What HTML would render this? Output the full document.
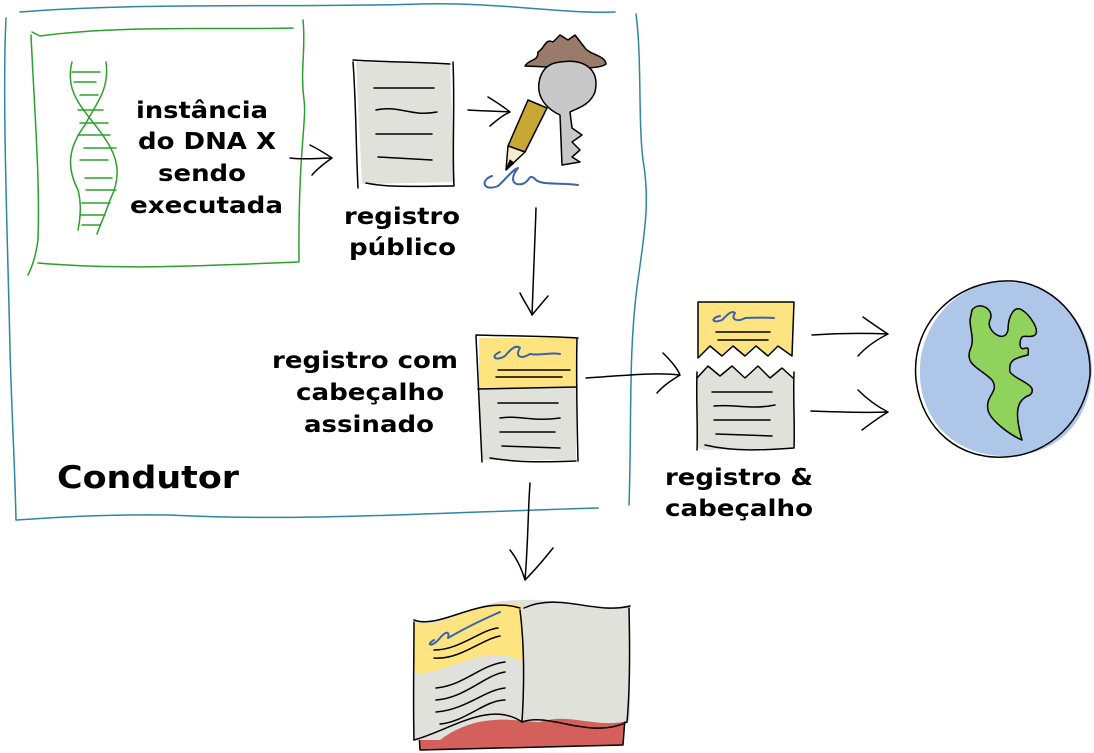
<!DOCTYPE html>
<html><head><meta charset="utf-8"><style>
html,body{margin:0;padding:0;background:#fff;width:1094px;height:753px;overflow:hidden}
svg text{font-family:"DejaVu Sans","Liberation Sans",sans-serif;font-weight:bold;fill:#000}
</style></head><body>
<svg width="1094" height="753" viewBox="0 0 1094 753" xmlns="http://www.w3.org/2000/svg" fill="none" stroke-linecap="round" stroke-linejoin="round">
<!-- blue frame -->
<g stroke="#2e86a0" stroke-width="1.5">
<path d="M20 12 C150 2 300 8 420 4 C500 2 560 14 615 12"/>
<path d="M636 14 C642 60 638 120 643 160 C650 200 645 230 638 280 C628 350 632 420 629 505"/>
<path d="M598 508 C450 512 300 522 170 515 C100 514 50 518 16 520"/>
<path d="M6 18 C2 100 8 250 10 350 C12 420 15 470 16 520"/>
</g>
<!-- green frame -->
<g stroke="#2ca02c" stroke-width="1.5">
<path d="M32 32 L40 36 C120 25 220 30 293 28"/>
<path d="M303 20 C306 50 300 70 304 100 C307 120 298 150 299 262"/>
<path d="M38 263 C120 270 200 266 298 262"/>
<path d="M31 35 C35 120 40 180 38 240 C36 255 33 265 28 275"/>
<path d="M72 62 C65 90 80 105 95 125 C115 150 125 170 110 200 C105 215 100 225 97 234"/>
<path d="M106 62 C110 90 95 105 85 125 C70 145 65 165 78 190 C82 205 80 220 78 230"/>
<path d="M72 72 H100 M74 82 H96 M80 95 H98 M78 110 H103 M80 123 H108 M78 135 H110 M84 148 H116 M80 160 H108 M85 178 H112 M86 190 H116 M82 203 H110 M80 215 H105 M82 225 H100"/>
</g>
<g font-size="23" lengthAdjust="spacingAndGlyphs">
<text x="136" y="118" textLength="132" lengthAdjust="spacingAndGlyphs">instância</text>
<text x="138" y="149" textLength="138" lengthAdjust="spacingAndGlyphs">do DNA X</text>
<text x="158" y="181" textLength="88" lengthAdjust="spacingAndGlyphs">sendo</text>
<text x="130" y="213" textLength="153" lengthAdjust="spacingAndGlyphs">executada</text>
</g>
<!-- arrows -->
<g stroke="#000" stroke-width="1.5">
<path d="M290 158 C305 160 318 158 332 158 M310 145 C320 150 326 154 332 158 M312 175 C318 168 325 163 332 158"/>
<path d="M468 110 C480 111 495 111 510 112 M488 97 C498 103 505 108 510 112 M490 126 C497 120 503 115 510 112"/>
<path d="M536 208 C535 240 534 270 532 315 M520 293 C525 303 530 310 532 315 M548 296 C542 303 537 309 532 315"/>
<path d="M586 378 C620 376 650 372 680 375 M663 353 C672 362 677 368 680 375 M657 393 C664 385 672 380 680 375"/>
<path d="M812 335 C840 333 865 333 888 334 M863 317 C873 324 880 329 888 334 M858 356 C866 347 876 340 888 334"/>
<path d="M811 411 C840 412 865 413 888 412 M858 390 C868 400 878 407 888 412 M862 430 C870 424 878 418 888 412"/>
<path d="M530 483 C528 510 528 545 525 580 M510 550 C518 560 522 570 525 580 M553 548 C545 558 535 570 525 580"/>
</g>
<path d="M356 62 L450 64 L455 182 L362 184 Z" fill="#e1e1dc"/>
<g stroke="#000" stroke-width="1.5">
<path d="M353 60 C380 62 420 62 450 64 M453 62 C455 110 452 150 454 186 M366 183 C390 188 420 186 453 186 M353 62 C356 100 356 150 358 188"/>
<path d="M374 88 H434 M376 110 C400 105 410 117 437 112 M376 134 H432 M378 157 L432 160"/>
</g>
<text x="344" y="224" font-size="23" textLength="116" lengthAdjust="spacingAndGlyphs">registro</text>
<text x="349" y="255" font-size="23" textLength="107" lengthAdjust="spacingAndGlyphs">público</text>
<path d="M525 66 C530 58 538 62 538 52 C545 48 545 38 553 42 L560 35 L568 40 L575 35 L585 48 C590 55 605 55 606 64 C600 70 570 68 525 66 Z" fill="#9a7b6a" stroke="#000" stroke-width="1.5"/>
<path d="M560 62 C585 58 600 70 595 92 C590 105 578 108 570 112 L572 128 L582 135 L572 142 L580 150 L572 157 L580 162 L562 165 L560 115 C545 108 535 95 540 78 C543 68 550 63 560 62 Z" fill="#c8c8c8" stroke="#000" stroke-width="1.5"/>
<path d="M528 100 L547 108 L525 152 L508 146 Z" fill="#c8a834" stroke="#000" stroke-width="1.5"/>
<path d="M508 146 L525 152 L506 170 Z" fill="#f3ecd0" stroke="#000" stroke-width="1.5"/>
<path d="M510 160 L506 170 L514 163 Z" fill="#000" stroke="#000"/>
<path d="M492 176 C480 180 483 192 498 186 C505 180 512 170 518 168 C510 178 512 186 522 184 C530 182 528 174 534 178 C540 186 555 182 578 185" stroke="#3a64a8" stroke-width="2"/>
<path d="M479 338 L576 338 L576 388 L479 388 Z" fill="#fee480"/>
<path d="M479 388 L576 388 L576 460 L482 460 Z" fill="#e1e1dc"/>
<g stroke="#000" stroke-width="1.5">
<path d="M476 335 C510 336 545 336 578 338 M577 338 C576 380 577 420 578 461 M490 458 C520 463 550 462 576 461 M476 336 C478 380 480 420 482 462"/>
<path d="M478 389 L577 387"/>
<path d="M498 370 H570 M496 377 H562 M498 403 H558 M500 418 C520 415 530 422 560 418 M500 432 H555 M502 446 L560 448"/>
</g>
<path d="M500 352 C490 356 495 362 505 356 C510 350 516 344 520 348 C515 356 520 360 530 354 C540 356 550 352 560 354" stroke="#3a64a8" stroke-width="2"/>
<text x="272" y="368" font-size="23" textLength="186" lengthAdjust="spacingAndGlyphs">registro com</text>
<text x="296" y="400" font-size="23" textLength="148" lengthAdjust="spacingAndGlyphs">cabeçalho</text>
<text x="304" y="432" font-size="23" textLength="130" lengthAdjust="spacingAndGlyphs">assinado</text>
<path d="M698 302 L794 302 L792 356 L778 346 L768 356 L756 346 L745 356 L733 346 L722 356 L710 346 L698 358 Z" fill="#fee480" stroke="#000" stroke-width="1.5"/>
<path d="M697 378 L708 366 L720 376 L732 366 L745 378 L758 366 L770 378 L782 368 L793 378 L794 448 L705 450 L697 448 Z" fill="#e1e1dc"/>
<g stroke="#000" stroke-width="1.5">
<path d="M697 378 L708 366 L720 376 L732 366 L745 378 L758 366 L770 378 L782 368 L793 378 M794 372 C793 400 795 425 794 448 M705 445 C735 452 765 450 794 448 M697 372 C696 400 698 430 697 450"/>
<path d="M716 332 H770 M718 340 H768 M712 392 H772 M714 406 C735 404 750 410 775 405 M714 420 H770 M716 434 L772 436"/>
</g>
<path d="M720 316 C710 318 712 324 722 320 C728 314 732 310 735 313 C730 320 738 322 745 318 C752 318 762 317 774 318" stroke="#3a64a8" stroke-width="2"/>
<text x="665" y="485" font-size="23" textLength="148" lengthAdjust="spacingAndGlyphs">registro &amp;</text>
<text x="665" y="516" font-size="23" textLength="148" lengthAdjust="spacingAndGlyphs">cabeçalho</text>
<path d="M1003 282 C1050 280 1092 320 1092 370 C1090 420 1060 456 1005 456 C955 456 918 420 920 368 C922 320 960 282 1003 282 Z" fill="#aec6e8"/>
<path d="M1013 281 C960 278 910 320 916 380 C922 430 960 460 1005 457 C1050 455 1085 420 1090 375 C1092 330 1060 285 1013 281" stroke="#000" stroke-width="1.5"/>
<path d="M972 310 C980 300 995 310 990 320 C985 330 1005 345 1008 330 C1008 315 1015 305 1022 310 C1030 315 1040 330 1035 335 C1028 340 1020 330 1020 345 C1022 355 1030 340 1028 355 C1015 358 1008 360 1010 372 C1015 380 1040 385 1030 395 C1015 400 1015 415 1022 440 C1010 435 990 420 988 410 C985 395 1000 392 992 380 C980 368 965 365 970 350 C975 340 970 330 970 320 Z" fill="#8fd35c" stroke="#000" stroke-width="1.5"/>
<text x="57" y="488" font-size="31" textLength="182" lengthAdjust="spacingAndGlyphs">Condutor</text>
<path d="M418 718 L625 718 L623 745 L420 750 Z" fill="#d4605c" stroke="#000" stroke-width="1.5"/>
<path d="M414 620 C440 630 470 600 520 600 C560 598 600 612 630 605 L630 720 C600 730 570 712 540 722 C520 722 480 710 440 740 L414 740 Z" fill="#e1e1dc"/>
<path d="M414 622 C445 632 480 595 522 605 L524 662 C480 640 440 680 414 672 Z" fill="#fee480"/>
<g stroke="#000" stroke-width="1.5">
<path d="M414 620 C440 630 480 595 520 608 M524 608 C560 592 595 615 630 606 M629 608 C630 650 630 690 627 722 M414 622 C414 660 413 700 414 740 M520 610 C525 650 524 690 522 722"/>
<path d="M414 740 C450 730 490 700 522 722 C550 712 590 740 627 722"/>
<path d="M434 650 C460 650 480 630 498 628 M434 658 C460 660 480 640 500 636 M436 688 C465 685 480 665 505 662 M436 700 C465 698 485 675 505 672 M436 712 C465 710 485 690 505 688 M440 724 C465 722 485 700 505 700"/>
</g>
<path d="M434 640 C425 645 432 648 440 638 C445 632 450 630 448 638 C455 634 470 625 500 612" stroke="#3a64a8" stroke-width="2"/>
</svg>
</body></html>
